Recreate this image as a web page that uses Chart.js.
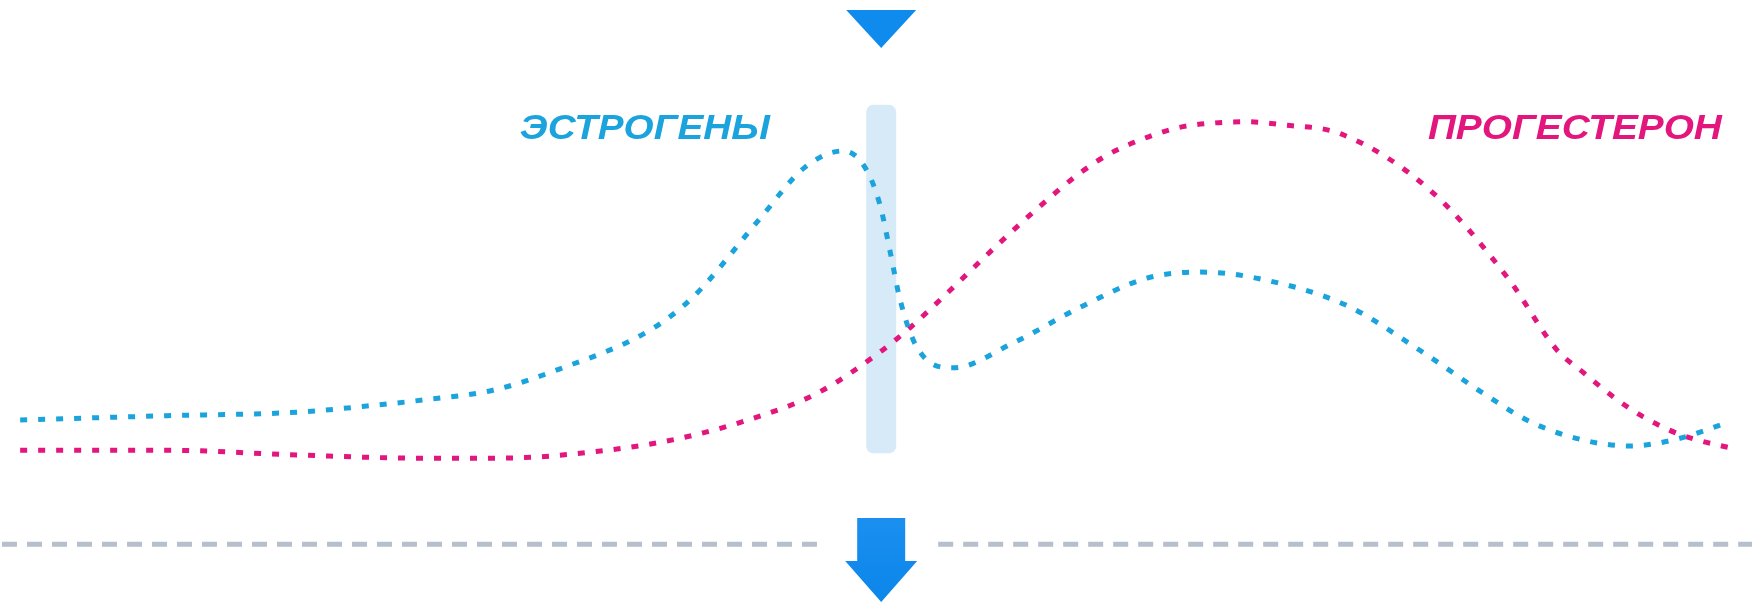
<!DOCTYPE html>
<html>
<head>
<meta charset="utf-8">
<script src="https://cdn.jsdelivr.net/npm/chart.js@4.4.1/dist/chart.umd.min.js"></script>
<style>
    body { margin: 0; background: #fff; }
    #wrap { width: 1752px; height: 606px; position: relative; }
</style>
</head>
<body>
<div id="wrap"><canvas id="cycleChart"></canvas></div>
<script>
// Day of the cycle (x) and relative hormone level (y, 0..100)
const estrogenDays = [0, 2.41, 4.58, 5.68, 6.6, 7.74, 8.83, 10.31, 11.02, 12.12, 12.84, 13.48, 13.84, 14.08, 14.25, 14.41, 14.69, 15.28, 16.26, 17.36, 18.45, 19.32, 20.14, 21.7, 22.92, 23.96, 24.73, 25.59, 26.36, 27.07, 27.95];
const estrogenLevels = [30.7, 31.4, 32.0, 33.0, 34.0, 35.6, 39.1, 45.5, 51.0, 64.0, 72.3, 75.1, 72.3, 66.2, 58.3, 50.5, 42.6, 39.3, 43.4, 49.3, 54.1, 55.1, 54.3, 49.7, 42.2, 35.1, 30.4, 27.4, 26.4, 27.4, 30.2];

const progesteroneDays = [0, 2.41, 4.58, 6.55, 7.86, 9.61, 10.77, 11.92, 13.05, 14.08, 14.57, 15.23, 15.88, 16.59, 17.31, 17.8, 18.34, 18.95, 19.54, 20.09, 20.68, 21.63, 23.09, 24.37, 25.17, 25.59, 26.09, 26.58, 27.13, 27.46, 28.0];
const progesteroneLevels = [25.7, 25.7, 24.9, 24.4, 24.4, 25.7, 27.6, 30.7, 35.1, 41.9, 45.9, 52.1, 58.4, 65.0, 71.1, 74.4, 76.9, 78.9, 79.7, 79.9, 79.4, 77.9, 68.6, 54.0, 42.2, 38.6, 34.5, 31.2, 28.5, 27.4, 26.1];

const seriesLabels = ['ЭСТРОГЕНЫ', 'ПРОГЕСТЕРОН'];
const ovulationDay = 14.1;
const bandRange = [25.2, 82.7];     // ovulation band, level units
const baselineLevel = 10.2;         // dashed separator
// label anchors: [day, level] (centre of the caps)
const labelAnchors = [[10.23, 79.2], [25.46, 79.2]];

const blue = '#1aa3dd';
const pink = '#e2167c';
const arrowBlue = '#0f8bee';

function toPoints(xs, ys) {
    return xs.map((x, i) => ({ x: x, y: ys[i] }));
}

// Draws the band, arrows, separator and series labels
const decorPlugin = {
    id: 'decor',
    beforeDatasetsDraw(chart) {
        const { ctx, scales: { x, y } } = chart;
        const cx = x.getPixelForValue(ovulationDay);
        const top = y.getPixelForValue(bandRange[1]);
        const bottom = y.getPixelForValue(bandRange[0]);
        ctx.save();
        ctx.fillStyle = '#d6eaf8';
        ctx.beginPath();
        ctx.roundRect(cx - 15, top, 30, bottom - top, 7);
        ctx.fill();
        ctx.restore();
    },
    afterDatasetsDraw(chart) {
        const { ctx, scales: { x, y } } = chart;
        const cx = x.getPixelForValue(ovulationDay);
        ctx.save();

        // dashed separator with a gap for the arrow
        const ly = y.getPixelForValue(baselineLevel);
        ctx.strokeStyle = '#b6bfcc';
        ctx.lineWidth = 5;
        ctx.setLineDash([15, 10]);
        ctx.beginPath();
        ctx.moveTo(chart.chartArea.left + 2, ly);
        ctx.lineTo(cx - 62, ly);
        ctx.moveTo(cx + 57, ly);
        ctx.lineTo(chart.chartArea.right, ly);
        ctx.stroke();
        ctx.setLineDash([]);

        // top arrow head
        ctx.fillStyle = arrowBlue;
        ctx.beginPath();
        ctx.moveTo(cx - 35, 10);
        ctx.lineTo(cx + 35, 10);
        ctx.lineTo(cx, 48);
        ctx.closePath();
        ctx.fill();

        // bottom arrow
        const g = ctx.createLinearGradient(0, 518, 0, 602);
        g.addColorStop(0, '#1a8ff0');
        g.addColorStop(1, '#0b86ea');
        ctx.fillStyle = g;
        ctx.beginPath();
        ctx.moveTo(cx - 24, 518);
        ctx.lineTo(cx + 24, 518);
        ctx.lineTo(cx + 24, 561);
        ctx.lineTo(cx + 36, 561);
        ctx.lineTo(cx, 602);
        ctx.lineTo(cx - 36, 561);
        ctx.lineTo(cx - 24, 561);
        ctx.closePath();
        ctx.fill();

        // series labels
        const colors = [blue, pink];
        const widths = [250, 294];
        const size = 35;
        ctx.font = 'italic bold ' + size + 'px "Liberation Sans", Arial, sans-serif';
        ctx.textAlign = 'center';
        ctx.textBaseline = 'alphabetic';
        seriesLabels.forEach((text, i) => {
            const px = x.getPixelForValue(labelAnchors[i][0]);
            const py = y.getPixelForValue(labelAnchors[i][1]) + size * 0.36;
            const w = ctx.measureText(text).width;
            ctx.save();
            ctx.translate(px, py);
            ctx.scale(widths[i] / w, 1);
            ctx.fillStyle = colors[i];
            ctx.fillText(text, 0, 0);
            ctx.restore();
        });
        ctx.restore();
    }
};

const ctx = document.getElementById('cycleChart').getContext('2d');
new Chart(ctx, {
    type: 'line',
    data: {
        datasets: [
            {
                label: seriesLabels[0],
                data: toPoints(estrogenDays, estrogenLevels),
                borderColor: blue,
                borderWidth: 5,
                borderDash: [7, 11],
                borderCapStyle: 'butt',
                cubicInterpolationMode: 'monotone',
                pointRadius: 0,
                fill: false
            },
            {
                label: seriesLabels[1],
                data: toPoints(progesteroneDays, progesteroneLevels),
                borderColor: pink,
                borderWidth: 5,
                borderDash: [7, 11],
                borderCapStyle: 'butt',
                cubicInterpolationMode: 'monotone',
                pointRadius: 0,
                fill: false
            }
        ]
    },
    options: {
        responsive: true,
        maintainAspectRatio: false,
        animation: false,
        layout: { padding: 0 },
        plugins: {
            legend: { display: false },
            tooltip: { enabled: false }
        },
        scales: {
            x: { type: 'linear', min: -0.33, max: 28.36, display: false },
            y: { min: 0, max: 100, display: false }
        }
    },
    plugins: [decorPlugin]
});
</script>
</body>
</html>
